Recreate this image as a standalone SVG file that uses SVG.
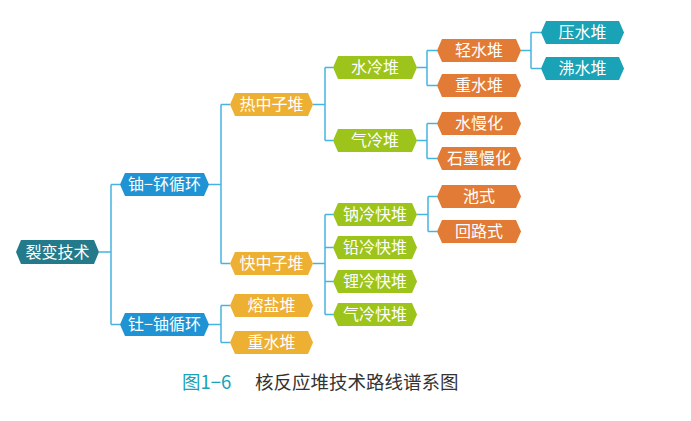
<svg xmlns="http://www.w3.org/2000/svg" width="691" height="421" viewBox="0 0 691 421">
<style>
.t{font-family:"Noto Sans CJK SC","Noto Sans",sans-serif;font-size:16px;fill:#fff;text-anchor:middle}
.c{fill:none;stroke:#45b4e0;stroke-width:1.5}
.root{fill:#237a8a}
.blue{fill:#1f93d3}
.yel{fill:#eeb033}
.grn{fill:#9dc41b}
.org{fill:#e27b35}
.teal{fill:#1aa2b6}
.cap{font-family:"Noto Sans CJK SC","Noto Sans",sans-serif;font-size:18.5px}
</style>
<rect width="691" height="421" fill="#fff"/>
<g id="connectors">
<path class="c" d="M99,252 H111 M111,184.5 V324.5 M111,184.5 H120 M111,324.5 H120"/>
<path class="c" d="M209,184.5 H221 M221,104.5 V263.5 M221,104.5 H230 M221,263.5 H230"/>
<path class="c" d="M209,324.5 H221 M221,305.5 V342.5 M221,305.5 H230 M221,342.5 H230"/>
<path class="c" d="M313,104.5 H325 M325,67.5 V140.5 M325,67.5 H333 M325,140.5 H333"/>
<path class="c" d="M313,263.5 H325 M325,214.5 V314.5 M325,214.5 H333 M325,247.5 H333 M325,281.5 H333 M325,314.5 H333"/>
<path class="c" d="M417,67.5 H427 M427,50.5 V85.5 M427,50.5 H437 M427,85.5 H437"/>
<path class="c" d="M417,140.5 H427 M427,123.5 V158.5 M427,123.5 H437 M427,158.5 H437"/>
<path class="c" d="M417,214.5 H428 M428,196.5 V231.5 M428,196.5 H437 M428,231.5 H437"/>
<path class="c" d="M521,50.5 H531 M531,32.5 V68.5 M531,32.5 H541 M531,68.5 H541"/>
</g>
<g id="n-root"><path class="root" d="M16,252 L21,240 H94 L99,252 L94,264 H21 Z"/><text class="t" x="57.5" y="257.5">裂变技术</text></g>
<g id="n-upu"><path class="blue" d="M120,184.5 L125,173 H204 L209,184.5 L204,196 H125 Z"/><text class="t" x="164.5" y="190">铀−钚循环</text></g>
<g id="n-thu"><path class="blue" d="M120,324.5 L125,313 H204 L209,324.5 L204,336 H125 Z"/><text class="t" x="164.5" y="330">钍−铀循环</text></g>
<g id="n-thermal"><path class="yel" d="M230,104.5 L235,93 H308 L313,104.5 L308,116 H235 Z"/><text class="t" x="271.5" y="110">热中子堆</text></g>
<g id="n-fast"><path class="yel" d="M230,263.5 L235,252 H308 L313,263.5 L308,275 H235 Z"/><text class="t" x="271.5" y="269">快中子堆</text></g>
<g id="n-msr"><path class="yel" d="M230,305.5 L235,294 H308 L313,305.5 L308,317 H235 Z"/><text class="t" x="271.5" y="311">熔盐堆</text></g>
<g id="n-hwr2"><path class="yel" d="M230,342.5 L235,331 H308 L313,342.5 L308,354 H235 Z"/><text class="t" x="271.5" y="348">重水堆</text></g>
<g id="n-water"><path class="grn" d="M333,67.5 L338,56 H412 L417,67.5 L412,79 H338 Z"/><text class="t" x="375" y="73">水冷堆</text></g>
<g id="n-gas"><path class="grn" d="M333,140.5 L338,129 H412 L417,140.5 L412,152 H338 Z"/><text class="t" x="375" y="146">气冷堆</text></g>
<g id="n-na"><path class="grn" d="M333,214.5 L338,203 H412 L417,214.5 L412,226 H338 Z"/><text class="t" x="375" y="220">钠冷快堆</text></g>
<g id="n-pb"><path class="grn" d="M333,247.5 L338,236 H412 L417,247.5 L412,259 H338 Z"/><text class="t" x="375" y="253">铅冷快堆</text></g>
<g id="n-li"><path class="grn" d="M333,281.5 L338,270 H412 L417,281.5 L412,293 H338 Z"/><text class="t" x="375" y="287">锂冷快堆</text></g>
<g id="n-gfr"><path class="grn" d="M333,314.5 L338,303 H412 L417,314.5 L412,326 H338 Z"/><text class="t" x="375" y="320">气冷快堆</text></g>
<g id="n-lwr"><path class="org" d="M437,50.5 L442,39 H516 L521,50.5 L516,62 H442 Z"/><text class="t" x="479" y="56">轻水堆</text></g>
<g id="n-hwr"><path class="org" d="M437,85.5 L442,74 H516 L521,85.5 L516,97 H442 Z"/><text class="t" x="479" y="91">重水堆</text></g>
<g id="n-wmod"><path class="org" d="M437,123.5 L442,112 H516 L521,123.5 L516,135 H442 Z"/><text class="t" x="479" y="129">水慢化</text></g>
<g id="n-gmod"><path class="org" d="M437,158.5 L442,147 H516 L521,158.5 L516,170 H442 Z"/><text class="t" x="479" y="164">石墨慢化</text></g>
<g id="n-pool"><path class="org" d="M437,196.5 L442,185 H516 L521,196.5 L516,208 H442 Z"/><text class="t" x="479" y="202">池式</text></g>
<g id="n-loop"><path class="org" d="M437,231.5 L442,220 H516 L521,231.5 L516,243 H442 Z"/><text class="t" x="479" y="237">回路式</text></g>
<g id="n-pwr"><path class="teal" d="M541,32.5 L546,21 H619 L624,32.5 L619,44 H546 Z"/><text class="t" x="582.5" y="38">压水堆</text></g>
<g id="n-bwr"><path class="teal" d="M541,68.5 L546,57 H619 L624,68.5 L619,80 H546 Z"/><text class="t" x="582.5" y="74">沸水堆</text></g>
<text class="cap" x="182" y="389" fill="#1aa2b6">图1−6</text>
<text class="cap" x="255" y="389" fill="#333">核反应堆技术路线谱系图</text>
</svg>
